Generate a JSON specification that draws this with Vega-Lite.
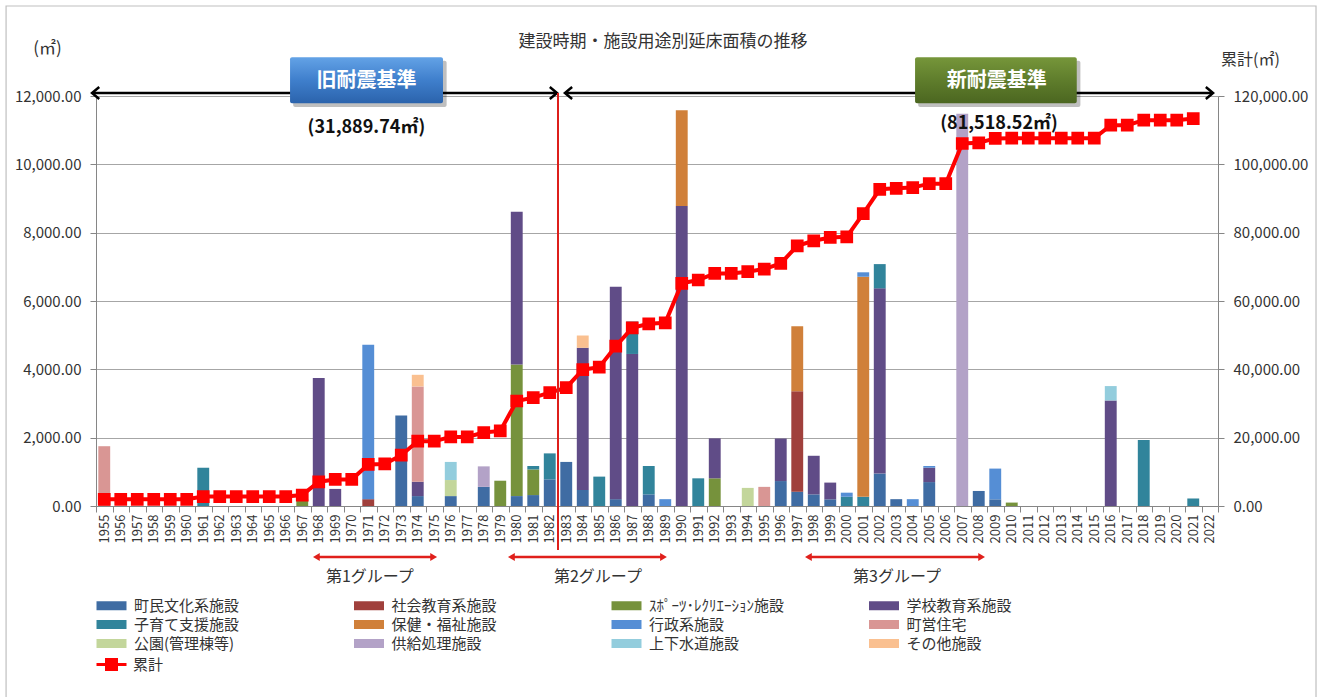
{
  "$schema": "https://vega.github.io/schema/vega-lite/v6.json",
  "width": 1122,
  "height": 410,
  "autosize": {"type": "none"},
  "padding": {"left": 96, "top": 96, "right": 107, "bottom": 191},
  "background": "white",
  "config": {
    "font": "Noto Sans CJK JP",
    "view": {"stroke": null},
    "axis": {"labelFont": "Noto Sans CJK JP", "titleFont": "Noto Sans CJK JP"},
    "legend": {"labelFont": "Noto Sans CJK JP"}
  },
  "title": {
    "text": "建設時期・施設用途別延床面積の推移",
    "fontSize": 17,
    "fontWeight": "normal",
    "color": "#333333",
    "anchor": "middle",
    "frame": "group",
    "offset": -46,
    "dx": 6
  },
  "datasets": {
    "bars": [
      {"年": 1955, "用途": "町営住宅", "面積": 1750},
      {"年": 1961, "用途": "子育て支援施設", "面積": 1120},
      {"年": 1967, "用途": "ｽﾎﾟｰﾂ･ﾚｸﾘｴｰｼｮﾝ施設", "面積": 200},
      {"年": 1968, "用途": "学校教育系施設", "面積": 3750},
      {"年": 1969, "用途": "学校教育系施設", "面積": 500},
      {"年": 1971, "用途": "社会教育系施設", "面積": 200},
      {"年": 1971, "用途": "行政系施設", "面積": 4520},
      {"年": 1973, "用途": "町民文化系施設", "面積": 2650},
      {"年": 1974, "用途": "町民文化系施設", "面積": 290},
      {"年": 1974, "用途": "学校教育系施設", "面積": 420},
      {"年": 1974, "用途": "町営住宅", "面積": 2790},
      {"年": 1974, "用途": "その他施設", "面積": 340},
      {"年": 1976, "用途": "町民文化系施設", "面積": 290},
      {"年": 1976, "用途": "公園(管理棟等)", "面積": 470},
      {"年": 1976, "用途": "上下水道施設", "面積": 530},
      {"年": 1978, "用途": "町民文化系施設", "面積": 560},
      {"年": 1978, "用途": "供給処理施設", "面積": 600},
      {"年": 1979, "用途": "ｽﾎﾟｰﾂ･ﾚｸﾘｴｰｼｮﾝ施設", "面積": 740},
      {"年": 1980, "用途": "町民文化系施設", "面積": 290},
      {"年": 1980, "用途": "ｽﾎﾟｰﾂ･ﾚｸﾘｴｰｼｮﾝ施設", "面積": 3850},
      {"年": 1980, "用途": "学校教育系施設", "面積": 4470},
      {"年": 1981, "用途": "町民文化系施設", "面積": 320},
      {"年": 1981, "用途": "ｽﾎﾟｰﾂ･ﾚｸﾘｴｰｼｮﾝ施設", "面積": 750},
      {"年": 1981, "用途": "子育て支援施設", "面積": 100},
      {"年": 1982, "用途": "町民文化系施設", "面積": 780},
      {"年": 1982, "用途": "子育て支援施設", "面積": 760},
      {"年": 1983, "用途": "町民文化系施設", "面積": 1290},
      {"年": 1984, "用途": "町民文化系施設", "面積": 470},
      {"年": 1984, "用途": "学校教育系施設", "面積": 4160},
      {"年": 1984, "用途": "その他施設", "面積": 360},
      {"年": 1985, "用途": "子育て支援施設", "面積": 860},
      {"年": 1986, "用途": "町民文化系施設", "面積": 200},
      {"年": 1986, "用途": "学校教育系施設", "面積": 6220},
      {"年": 1987, "用途": "学校教育系施設", "面積": 4450},
      {"年": 1987, "用途": "子育て支援施設", "面積": 950},
      {"年": 1988, "用途": "町民文化系施設", "面積": 340},
      {"年": 1988, "用途": "子育て支援施設", "面積": 830},
      {"年": 1989, "用途": "行政系施設", "面積": 200},
      {"年": 1990, "用途": "学校教育系施設", "面積": 8780},
      {"年": 1990, "用途": "保健・福祉施設", "面積": 2800},
      {"年": 1991, "用途": "子育て支援施設", "面積": 810},
      {"年": 1992, "用途": "ｽﾎﾟｰﾂ･ﾚｸﾘｴｰｼｮﾝ施設", "面積": 810},
      {"年": 1992, "用途": "学校教育系施設", "面積": 1170},
      {"年": 1994, "用途": "公園(管理棟等)", "面積": 530},
      {"年": 1995, "用途": "町営住宅", "面積": 560},
      {"年": 1996, "用途": "町民文化系施設", "面積": 730},
      {"年": 1996, "用途": "学校教育系施設", "面積": 1245},
      {"年": 1997, "用途": "町民文化系施設", "面積": 420},
      {"年": 1997, "用途": "社会教育系施設", "面積": 2940},
      {"年": 1997, "用途": "保健・福祉施設", "面積": 1900},
      {"年": 1998, "用途": "町民文化系施設", "面積": 340},
      {"年": 1998, "用途": "学校教育系施設", "面積": 1130},
      {"年": 1999, "用途": "町民文化系施設", "面積": 195},
      {"年": 1999, "用途": "学校教育系施設", "面積": 490},
      {"年": 2000, "用途": "子育て支援施設", "面積": 270},
      {"年": 2000, "用途": "行政系施設", "面積": 120},
      {"年": 2001, "用途": "子育て支援施設", "面積": 270},
      {"年": 2001, "用途": "保健・福祉施設", "面積": 6440},
      {"年": 2001, "用途": "行政系施設", "面積": 130},
      {"年": 2002, "用途": "町民文化系施設", "面積": 950},
      {"年": 2002, "用途": "学校教育系施設", "面積": 5420},
      {"年": 2002, "用途": "子育て支援施設", "面積": 710},
      {"年": 2003, "用途": "町民文化系施設", "面積": 200},
      {"年": 2004, "用途": "行政系施設", "面積": 200},
      {"年": 2005, "用途": "町民文化系施設", "面積": 700},
      {"年": 2005, "用途": "学校教育系施設", "面積": 420},
      {"年": 2005, "用途": "行政系施設", "面積": 50},
      {"年": 2007, "用途": "供給処理施設", "面積": 11480},
      {"年": 2008, "用途": "町民文化系施設", "面積": 440},
      {"年": 2009, "用途": "町民文化系施設", "面積": 195},
      {"年": 2009, "用途": "行政系施設", "面積": 900},
      {"年": 2010, "用途": "ｽﾎﾟｰﾂ･ﾚｸﾘｴｰｼｮﾝ施設", "面積": 100},
      {"年": 2016, "用途": "学校教育系施設", "面積": 3090},
      {"年": 2016, "用途": "上下水道施設", "面積": 420},
      {"年": 2018, "用途": "子育て支援施設", "面積": 1930},
      {"年": 2021, "用途": "子育て支援施設", "面積": 220}
    ],
    "cum": [
      {"年": 1955, "累計": 1950}, {"年": 1956, "累計": 1950}, {"年": 1957, "累計": 1950},
      {"年": 1958, "累計": 1950}, {"年": 1959, "累計": 1950}, {"年": 1960, "累計": 1950},
      {"年": 1961, "累計": 2750}, {"年": 1962, "累計": 2750}, {"年": 1963, "累計": 2750},
      {"年": 1964, "累計": 2750}, {"年": 1965, "累計": 2750}, {"年": 1966, "累計": 2750},
      {"年": 1967, "累計": 3200}, {"年": 1968, "累計": 7090}, {"年": 1969, "累計": 7780},
      {"年": 1970, "累計": 7780}, {"年": 1971, "累計": 12170}, {"年": 1972, "累計": 12300},
      {"年": 1973, "累計": 14880}, {"年": 1974, "累計": 18970}, {"年": 1975, "累計": 18970},
      {"年": 1976, "累計": 20220}, {"年": 1977, "累計": 20220}, {"年": 1978, "累計": 21500},
      {"年": 1979, "累計": 21980}, {"年": 1980, "累計": 30730}, {"年": 1981, "累計": 31720},
      {"年": 1982, "累計": 33180}, {"年": 1983, "累計": 34640}, {"年": 1984, "累計": 39890},
      {"年": 1985, "累計": 40650}, {"年": 1986, "累計": 46780}, {"年": 1987, "累計": 52140},
      {"年": 1988, "累計": 53310}, {"年": 1989, "累計": 53600}, {"年": 1990, "累計": 65160},
      {"年": 1991, "累計": 66150}, {"年": 1992, "累計": 68080}, {"年": 1993, "累計": 68080},
      {"年": 1994, "累計": 68570}, {"年": 1995, "累計": 69350}, {"年": 1996, "累計": 71000},
      {"年": 1997, "累計": 76160}, {"年": 1998, "累計": 77620}, {"年": 1999, "累計": 78590},
      {"年": 2000, "累計": 78790}, {"年": 2001, "累計": 85590}, {"年": 2002, "累計": 92700},
      {"年": 2003, "累計": 92990}, {"年": 2004, "累計": 93190}, {"年": 2005, "累計": 94340},
      {"年": 2006, "累計": 94340}, {"年": 2007, "累計": 106100}, {"年": 2008, "累計": 106300},
      {"年": 2009, "累計": 107580}, {"年": 2010, "累計": 107650}, {"年": 2011, "累計": 107650},
      {"年": 2012, "累計": 107650}, {"年": 2013, "累計": 107650}, {"年": 2014, "累計": 107650},
      {"年": 2015, "累計": 107650}, {"年": 2016, "累計": 111470}, {"年": 2017, "累計": 111470},
      {"年": 2018, "累計": 112930}, {"年": 2019, "累計": 112930}, {"年": 2020, "累計": 112930},
      {"年": 2021, "累計": 113410}
    ]
  },
  "resolve": {"scale": {"x": "independent", "y": "independent"}},
  "layer": [
    {
      "data": {"name": "bars"},
      "transform": [
        {
          "lookup": "用途",
          "from": {
            "data": {
              "values": [
                {"用途": "町民文化系施設", "順": 1},
                {"用途": "社会教育系施設", "順": 2},
                {"用途": "ｽﾎﾟｰﾂ･ﾚｸﾘｴｰｼｮﾝ施設", "順": 3},
                {"用途": "学校教育系施設", "順": 4},
                {"用途": "子育て支援施設", "順": 5},
                {"用途": "保健・福祉施設", "順": 6},
                {"用途": "行政系施設", "順": 7},
                {"用途": "町営住宅", "順": 8},
                {"用途": "公園(管理棟等)", "順": 9},
                {"用途": "供給処理施設", "順": 10},
                {"用途": "上下水道施設", "順": 11},
                {"用途": "その他施設", "順": 12}
              ]
            },
            "key": "用途",
            "fields": ["順"]
          }
        }
      ],
      "mark": {"type": "bar", "width": {"band": 0.72}},
      "encoding": {
        "x": {
          "field": "年",
          "type": "ordinal",
          "scale": {
            "type": "band",
            "paddingInner": 0,
            "paddingOuter": 0,
            "domain": [1955,1956,1957,1958,1959,1960,1961,1962,1963,1964,1965,1966,1967,1968,1969,1970,1971,1972,1973,1974,1975,1976,1977,1978,1979,1980,1981,1982,1983,1984,1985,1986,1987,1988,1989,1990,1991,1992,1993,1994,1995,1996,1997,1998,1999,2000,2001,2002,2003,2004,2005,2006,2007,2008,2009,2010,2011,2012,2013,2014,2015,2016,2017,2018,2019,2020,2021,2022]
          },
          "axis": {
            "title": null,
            "labelAngle": -90,
            "labelFontSize": 13,
            "labelColor": "#333333",
            "labelPadding": 2,
            "tickBand": "extent",
            "tickSize": 6,
            "tickColor": "#868686",
            "domainColor": "#868686"
          }
        },
        "y": {
          "field": "面積",
          "type": "quantitative",
          "stack": "zero",
          "scale": {"domain": [0, 12000], "nice": false},
          "axis": {
            "orient": "left",
            "title": "(㎡)",
            "titleAngle": 0,
            "titleX": -49,
            "titleY": -48,
            "titleAlign": "center",
            "titleBaseline": "middle",
            "titleFontSize": 17,
            "titleFontWeight": "normal",
            "titleColor": "#333333",
            "values": [0, 2000, 4000, 6000, 8000, 10000, 12000],
            "format": ",.2f",
            "labelFontSize": 15,
            "labelColor": "#333333",
            "labelPadding": 9,
            "tickSize": 6,
            "tickColor": "#868686",
            "domainColor": "#868686",
            "grid": true,
            "gridColor": "#A6A6A6"
          }
        },
        "color": {
          "field": "用途",
          "type": "nominal",
          "scale": {
            "domain": ["町民文化系施設", "子育て支援施設", "公園(管理棟等)", "社会教育系施設", "保健・福祉施設", "供給処理施設", "ｽﾎﾟｰﾂ･ﾚｸﾘｴｰｼｮﾝ施設", "行政系施設", "上下水道施設", "学校教育系施設", "町営住宅", "その他施設"],
            "range": ["#3F6CA3", "#31849B", "#C3D69B", "#A0403C", "#D0803A", "#B3A2C7", "#76923C", "#558ED5", "#93CDDD", "#604C87", "#D99694", "#FAC090"]
          },
          "legend": {
            "orient": "none",
            "legendX": 8,
            "legendY": 502,
            "title": null,
            "columns": 4,
            "gridAlign": "all",
            "columnPadding": 83.5,
            "rowPadding": 3,
            "padding": 0,
            "symbolType": "M-3,-0.9H3V0.9H-3Z",
            "symbolSize": 100,
            "symbolStrokeWidth": 0,
            "labelFontSize": 15,
            "labelColor": "#333333",
            "labelOffset": 15,
            "labelLimit": 300
          }
        },
        "order": {"field": "順", "type": "quantitative", "sort": "ascending"}
      }
    },
    {
      "data": {"name": "cum"},
      "mark": {
        "type": "line",
        "strokeWidth": 4,
        "point": {"shape": "square", "size": 115, "filled": true, "color": "#FF0000"}
      },
      "encoding": {
        "x": {
          "field": "年",
          "type": "quantitative",
          "scale": {"domain": [1954.5, 2022.5], "nice": false, "zero": false},
          "axis": null
        },
        "y": {
          "field": "累計",
          "type": "quantitative",
          "scale": {"domain": [0, 120000], "nice": false},
          "axis": {
            "orient": "right",
            "title": "累計(㎡)",
            "titleAngle": 0,
            "titleX": 32,
            "titleY": -37,
            "titleAlign": "center",
            "titleBaseline": "middle",
            "titleFontSize": 16,
            "titleFontWeight": "normal",
            "titleColor": "#333333",
            "values": [0, 20000, 40000, 60000, 80000, 100000, 120000],
            "format": ",.2f",
            "labelFontSize": 15,
            "labelColor": "#333333",
            "labelPadding": 9,
            "tickSize": 6,
            "tickColor": "#868686",
            "domainColor": "#868686",
            "grid": false
          }
        },
        "stroke": {
          "datum": "累計",
          "type": "nominal",
          "scale": {"range": ["#FF0000"]},
          "legend": {
            "orient": "none",
            "legendX": 8,
            "legendY": 561,
            "title": null,
            "padding": 0,
            "symbolType": "M-3,0H3M-1,-1H1V1H-1Z",
            "symbolSize": 100,
            "symbolStrokeWidth": 3,
            "symbolFillColor": "#FF0000",
            "labelFontSize": 15,
            "labelColor": "#333333",
            "labelOffset": 14,
            "encode": {"symbols": {"update": {"fill": {"value": "#FF0000"}, "fillOpacity": {"value": 1}}}}
          }
        }
      }
    },
    {
      "layer": [
        {
          "data": {"values": [{"x1": 1949.05, "x2": 2028.44, "y1": -6000, "y2": 14634}]},
          "mark": {"type": "rect", "fill": "transparent", "stroke": "#BFBFBF", "strokeWidth": 1.2},
          "encoding": {
            "x": {"field": "x1", "type": "quantitative", "scale": {"domain": [1954.5, 2022.5], "nice": false, "zero": false}, "axis": null},
            "x2": {"field": "x2"},
            "y": {"field": "y1", "type": "quantitative", "scale": {"domain": [0, 12000], "nice": false}, "axis": null},
            "y2": {"field": "y2"}
          }
        },
        {
          "data": {"values": [{"x1": 1954.35, "x2": 1982.4, "y": 12090}, {"x1": 1983.0, "x2": 2022.15, "y": 12090}]},
          "mark": {"type": "rule", "color": "#000000", "strokeWidth": 2.5},
          "encoding": {
            "x": {"field": "x1", "type": "quantitative", "scale": {"domain": [1954.5, 2022.5], "nice": false, "zero": false}, "axis": null},
            "x2": {"field": "x2"},
            "y": {"field": "y", "type": "quantitative", "scale": {"domain": [0, 12000], "nice": false}, "axis": null}
          }
        },
        {
          "data": {"values": [{"x": 1954.26, "y": 12090}, {"x": 1982.92, "y": 12090}]},
          "mark": {"type": "point", "shape": "M1.2,-1L0,0L1.2,1", "size": 144, "filled": false, "stroke": "#000000", "strokeWidth": 2.5, "opacity": 1},
          "encoding": {
            "x": {"field": "x", "type": "quantitative", "scale": {"domain": [1954.5, 2022.5], "nice": false, "zero": false}, "axis": null},
            "y": {"field": "y", "type": "quantitative", "scale": {"domain": [0, 12000], "nice": false}, "axis": null}
          }
        },
        {
          "data": {"values": [{"x": 1982.44, "y": 12090}, {"x": 2022.2, "y": 12090}]},
          "mark": {"type": "point", "shape": "M-1.2,-1L0,0L-1.2,1", "size": 144, "filled": false, "stroke": "#000000", "strokeWidth": 2.5, "opacity": 1},
          "encoding": {
            "x": {"field": "x", "type": "quantitative", "scale": {"domain": [1954.5, 2022.5], "nice": false, "zero": false}, "axis": null},
            "y": {"field": "y", "type": "quantitative", "scale": {"domain": [0, 12000], "nice": false}, "axis": null}
          }
        },
        {
          "data": {"values": [{"x": 1982.5, "y1": -1290, "y2": 12090}]},
          "mark": {"type": "rule", "color": "#DD1F1B", "strokeWidth": 2},
          "encoding": {
            "x": {"field": "x", "type": "quantitative", "scale": {"domain": [1954.5, 2022.5], "nice": false, "zero": false}, "axis": null},
            "y": {"field": "y1", "type": "quantitative", "scale": {"domain": [0, 12000], "nice": false}, "axis": null},
            "y2": {"field": "y2"}
          }
        },
        {
          "data": {"values": [{"x1": 1966.45, "x2": 1975.75, "y1": 11680, "y2": 13030}, {"x1": 2004.33, "x2": 2014.16, "y1": 11680, "y2": 13030}]},
          "mark": {"type": "rect", "color": "#000000", "opacity": 0.25, "cornerRadius": 2},
          "encoding": {
            "x": {"field": "x1", "type": "quantitative", "scale": {"domain": [1954.5, 2022.5], "nice": false, "zero": false}, "axis": null},
            "x2": {"field": "x2"},
            "y": {"field": "y1", "type": "quantitative", "scale": {"domain": [0, 12000], "nice": false}, "axis": null},
            "y2": {"field": "y2"}
          }
        },
        {
          "data": {"values": [{"x1": 1966.26, "x2": 1975.53, "y1": 11787, "y2": 13133}]},
          "mark": {
            "type": "rect",
            "cornerRadius": 2,
            "color": {"gradient": "linear", "x1": 0, "y1": 0, "x2": 0, "y2": 1, "stops": [{"offset": 0, "color": "#63A2E6"}, {"offset": 0.5, "color": "#3F7FCC"}, {"offset": 1, "color": "#2B63AC"}]}
          },
          "encoding": {
            "x": {"field": "x1", "type": "quantitative", "scale": {"domain": [1954.5, 2022.5], "nice": false, "zero": false}, "axis": null},
            "x2": {"field": "x2"},
            "y": {"field": "y1", "type": "quantitative", "scale": {"domain": [0, 12000], "nice": false}, "axis": null},
            "y2": {"field": "y2"}
          }
        },
        {
          "data": {"values": [{"x1": 2004.14, "x2": 2013.94, "y1": 11787, "y2": 13133}]},
          "mark": {
            "type": "rect",
            "cornerRadius": 2,
            "color": {"gradient": "linear", "x1": 0, "y1": 0, "x2": 0, "y2": 1, "stops": [{"offset": 0, "color": "#76963A"}, {"offset": 0.5, "color": "#5F7D2C"}, {"offset": 1, "color": "#4B6620"}]}
          },
          "encoding": {
            "x": {"field": "x1", "type": "quantitative", "scale": {"domain": [1954.5, 2022.5], "nice": false, "zero": false}, "axis": null},
            "x2": {"field": "x2"},
            "y": {"field": "y1", "type": "quantitative", "scale": {"domain": [0, 12000], "nice": false}, "axis": null},
            "y2": {"field": "y2"}
          }
        },
        {
          "data": {"values": [{"x": 1970.9, "y": 12440, "t": "旧耐震基準"}, {"x": 2009.09, "y": 12440, "t": "新耐震基準"}]},
          "mark": {"type": "text", "color": "#FFFFFF", "fontSize": 20, "fontWeight": "bold", "align": "center", "baseline": "middle"},
          "encoding": {
            "x": {"field": "x", "type": "quantitative", "scale": {"domain": [1954.5, 2022.5], "nice": false, "zero": false}, "axis": null},
            "y": {"field": "y", "type": "quantitative", "scale": {"domain": [0, 12000], "nice": false}, "axis": null},
            "text": {"field": "t"}
          }
        },
        {
          "data": {"values": [{"x": 1970.89, "y": 11064, "t": "(31,889.74㎡)"}, {"x": 2009.23, "y": 11181, "t": "(81,518.52㎡)"}]},
          "mark": {"type": "text", "color": "#111111", "fontSize": 18, "fontWeight": "bold", "align": "center", "baseline": "middle"},
          "encoding": {
            "x": {"field": "x", "type": "quantitative", "scale": {"domain": [1954.5, 2022.5], "nice": false, "zero": false}, "axis": null},
            "y": {"field": "y", "type": "quantitative", "scale": {"domain": [0, 12000], "nice": false}, "axis": null},
            "text": {"field": "t"}
          }
        },
        {
          "data": {"values": [{"x1": 1967.9, "x2": 1974.9, "y": -1493}, {"x1": 1979.7, "x2": 1988.85, "y": -1493}, {"x1": 1997.7, "x2": 2008.1, "y": -1493}]},
          "mark": {"type": "rule", "color": "#E0201B", "strokeWidth": 2.5},
          "encoding": {
            "x": {"field": "x1", "type": "quantitative", "scale": {"domain": [1954.5, 2022.5], "nice": false, "zero": false}, "axis": null},
            "x2": {"field": "x2"},
            "y": {"field": "y", "type": "quantitative", "scale": {"domain": [0, 12000], "nice": false}, "axis": null}
          }
        },
        {
          "data": {"values": [{"x": 1967.65, "y": -1493}, {"x": 1979.47, "y": -1493}, {"x": 1997.47, "y": -1493}]},
          "mark": {"type": "point", "shape": "M0,0L1.7,-1L1.7,1Z", "size": 64, "filled": true, "color": "#E0201B", "opacity": 1},
          "encoding": {
            "x": {"field": "x", "type": "quantitative", "scale": {"domain": [1954.5, 2022.5], "nice": false, "zero": false}, "axis": null},
            "y": {"field": "y", "type": "quantitative", "scale": {"domain": [0, 12000], "nice": false}, "axis": null}
          }
        },
        {
          "data": {"values": [{"x": 1975.17, "y": -1493}, {"x": 1989.1, "y": -1493}, {"x": 2008.38, "y": -1493}]},
          "mark": {"type": "point", "shape": "M0,0L-1.7,-1L-1.7,1Z", "size": 64, "filled": true, "color": "#E0201B", "opacity": 1},
          "encoding": {
            "x": {"field": "x", "type": "quantitative", "scale": {"domain": [1954.5, 2022.5], "nice": false, "zero": false}, "axis": null},
            "y": {"field": "y", "type": "quantitative", "scale": {"domain": [0, 12000], "nice": false}, "axis": null}
          }
        },
        {
          "data": {"values": [{"x": 1971.1, "y": -2078, "t": "第1グループ"}, {"x": 1984.92, "y": -2078, "t": "第2グループ"}, {"x": 2003.05, "y": -2078, "t": "第3グループ"}]},
          "mark": {"type": "text", "color": "#333333", "fontSize": 16, "align": "center", "baseline": "middle"},
          "encoding": {
            "x": {"field": "x", "type": "quantitative", "scale": {"domain": [1954.5, 2022.5], "nice": false, "zero": false}, "axis": null},
            "y": {"field": "y", "type": "quantitative", "scale": {"domain": [0, 12000], "nice": false}, "axis": null},
            "text": {"field": "t"}
          }
        }
      ]
    }
  ]
}
